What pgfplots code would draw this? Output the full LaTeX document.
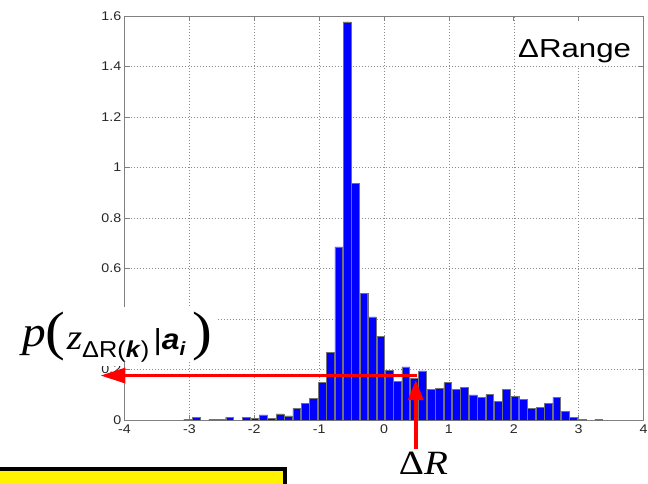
\documentclass[border=0pt]{standalone}
\usepackage{fontspec}
\setmainfont{Liberation Sans}
\newfontfamily\serif{Liberation Serif}
\usepackage{pgfplots}
\pgfplotsset{compat=1.18}
\usetikzlibrary{arrows.meta}
\begin{document}
\begin{tikzpicture}
\useasboundingbox (0pt,0pt) rectangle (648pt,484pt);
\begin{axis}[
  at={(124.5pt,64pt)}, anchor=south west,
  scale only axis, width=519pt, height=404pt,
  xmin=-4, xmax=4, ymin=0, ymax=1.6,
  xtick={-4,-3,-2,-1,0,1,2,3,4},
  ytick={0,0.2,0.4,0.6,0.8,1,1.2,1.4,1.6},
  grid=major,
  grid style={black!45, line width=0.5pt, dash pattern=on 1pt off 2pt},
  axis line style={black!50, line width=0.7pt},
  tick style={black!50, line width=0.7pt},
  tick align=inside,
  major tick length=5pt,
  clip=false,
  /pgf/number format/assume math mode=true,
  ticklabel style={font=\fontsize{12.6}{14}\selectfont, text=black!85, inner sep=0pt, xscale=1.13},
  xticklabel shift=5pt,
  yticklabel shift=3pt,
]
\addplot[ybar, bar width=0.12, fill=blue, draw=black!55, line width=0.4pt] coordinates {
(-3.026,0.003) (-2.897,0.011) (-2.638,0.003) (-2.509,0.003) (-2.380,0.011)
(-2.121,0.011) (-1.992,0.007) (-1.863,0.020) (-1.733,0.007) (-1.604,0.024)
(-1.475,0.016) (-1.345,0.046) (-1.216,0.065) (-1.087,0.086) (-0.957,0.148)
(-0.828,0.268) (-0.699,0.686) (-0.569,1.577) (-0.440,0.937) (-0.311,0.501)
(-0.182,0.408) (-0.052,0.330) (0.077,0.198) (0.206,0.152) (0.336,0.210)
(0.465,0.165) (0.594,0.195) (0.724,0.121) (0.853,0.125) (0.982,0.148)
(1.111,0.121) (1.241,0.129) (1.370,0.099) (1.499,0.090) (1.629,0.101)
(1.758,0.074) (1.887,0.121) (2.017,0.095) (2.146,0.082) (2.275,0.046)
(2.405,0.050) (2.534,0.065) (2.663,0.090) (2.793,0.033) (2.922,0.011)
(3.051,0.003) (3.310,0.003)
};
\draw[red, line width=3.5pt, -{Triangle[length=25pt,width=15pt]}]
  (axis cs:0.515,0.176) -- (axis cs:-4.37,0.176);
\draw[red, line width=3.5pt, -{Triangle[length=20pt,width=15pt]}]
  (axis cs:0.49,-0.113) -- (axis cs:0.49,0.158);
\end{axis}
% white box behind the ΔRange label
\fill[white] (515pt,418pt) rectangle (642pt,462pt);
\node[anchor=base west, inner sep=0pt, xscale=1.2] at (518pt,426.3pt)
  {\fontsize{26}{26}\selectfont ΔRange};
% white box behind the probability label
\fill[white] (15pt,122pt) rectangle (217pt,177pt);
\fill[white] (15pt,117.5pt) rectangle (121pt,122.5pt);
\node[anchor=base west, inner sep=0pt, xscale=1.1] at (22pt,134pt) {%
  \raisebox{3pt}{\serif\itshape\fontsize{43}{43}\selectfont p}%
  {\serif\fontsize{54}{54}\selectfont (}%
  \kern1pt{\serif\itshape\fontsize{36}{36}\selectfont z}%
  \raisebox{-8pt}{\fontsize{23}{23}\selectfont ΔR(\textbf{\textit{k}})}%
  \kern4pt{\fontsize{29}{29}\selectfont |}%
  {\fontsize{29}{29}\selectfont\bfseries\itshape a}%
  \raisebox{-6pt}{\fontsize{19}{19}\selectfont\bfseries\itshape i}%
  \kern6pt{\serif\fontsize{54}{54}\selectfont )}%
};
% ΔR label
\node[anchor=base, inner sep=0pt, xscale=1.15] at (423.5pt,9pt)
  {\serif\fontsize{34}{34}\selectfont Δ\textit{R}};
% yellow box (cut by the picture edge)
\begin{scope}
\clip (0pt,0pt) rectangle (648pt,484pt);
\draw[fill=yellow, line width=4pt] (-10pt,-30pt) rectangle (285pt,14.5pt);
\end{scope}
\end{tikzpicture}
\end{document}
